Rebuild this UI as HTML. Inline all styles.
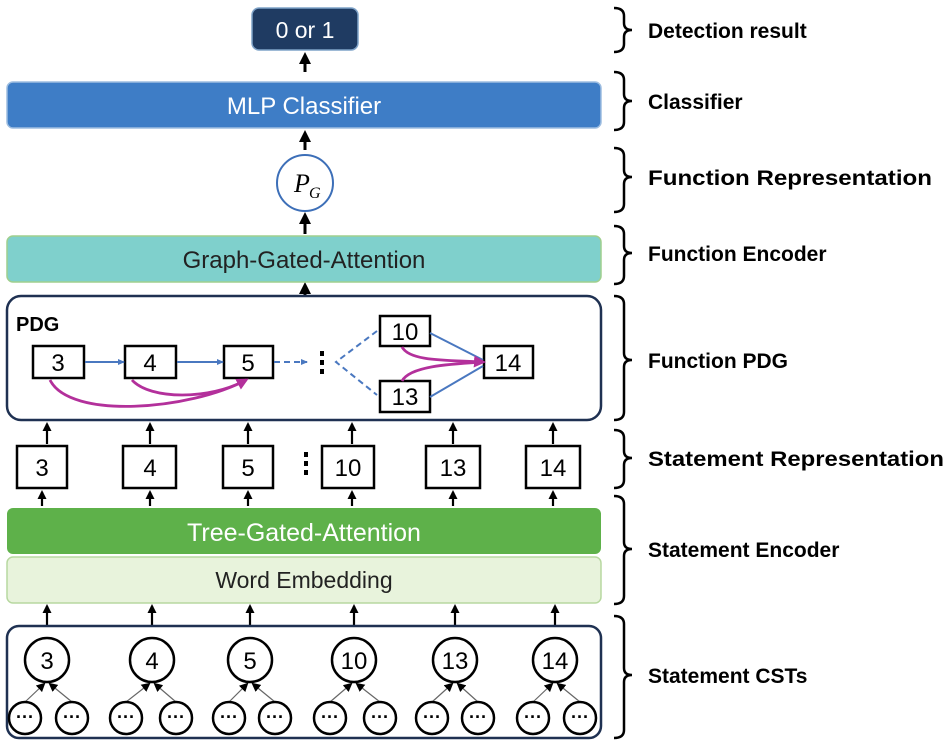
<!DOCTYPE html>
<html><head><style>body{margin:0;background:#fff}svg{display:block}</style></head><body>
<svg width="950" height="744" viewBox="0 0 950 744" xmlns="http://www.w3.org/2000/svg" font-family="Liberation Sans, sans-serif">
<defs>
<marker id="a" markerWidth="12" markerHeight="12" refX="6" refY="6" orient="auto" markerUnits="userSpaceOnUse"><path d="M0,0 L12,6 L0,12 z" fill="#000"/></marker>
<marker id="b" markerWidth="8" markerHeight="8" refX="6" refY="4" orient="auto" markerUnits="userSpaceOnUse"><path d="M0,1 L7,4 L0,7 z" fill="#4a78c0"/></marker>
<marker id="m" markerWidth="14" markerHeight="14" refX="9" refY="7" orient="auto" markerUnits="userSpaceOnUse"><path d="M0,1 L12,7 L0,13 z" fill="#b3309b"/></marker>
<marker id="s" markerWidth="9" markerHeight="9" refX="7" refY="4.5" orient="auto" markerUnits="userSpaceOnUse"><path d="M0,0 L9,4.5 L0,9 z" fill="#000"/></marker>
</defs>
<g stroke="#000" stroke-width="3" marker-end="url(#a)">
<line x1="305" y1="72" x2="305" y2="58"/>
<line x1="305" y1="150" x2="305" y2="136"/>
<line x1="305" y1="234" x2="305" y2="218"/>
<line x1="305" y1="296" x2="305" y2="288"/>
</g>
<rect x="252" y="8" width="106" height="42" rx="7" fill="#1f3b62" stroke="#7fa3c8" stroke-width="1.5"/>
<text x="305" y="38" font-size="23" fill="#fff" text-anchor="middle">0 or 1</text>
<rect x="7" y="82" width="594" height="46" rx="6" fill="#3e7dc6" stroke="#9dbde0" stroke-width="1.5"/>
<text x="304" y="114" font-size="24" fill="#fff" text-anchor="middle">MLP Classifier</text>
<circle cx="305" cy="183" r="28" fill="#fff" stroke="#3d6fb8" stroke-width="2"/>
<text x="294" y="192" font-size="26" font-style="italic" font-family="Liberation Serif, serif">P</text><text x="309" y="198" font-size="16" font-style="italic" font-family="Liberation Serif, serif">G</text>
<rect x="7" y="236" width="594" height="46" rx="6" fill="#7fd0cc" stroke="#9fcf8e" stroke-width="1.5"/>
<text x="304" y="268" font-size="24" fill="#222" text-anchor="middle">Graph-Gated-Attention</text>
<rect x="7" y="296" width="594" height="124" rx="14" fill="#fff" stroke="#1f3152" stroke-width="2.5"/>
<text x="16" y="331" font-size="20" font-weight="bold">PDG</text>
<g fill="#fff" stroke="#000" stroke-width="2.5">
<rect x="33" y="346" width="51" height="32"/><rect x="125" y="346" width="51" height="32"/><rect x="224" y="346" width="49" height="32"/>
<rect x="380" y="316" width="50" height="30"/><rect x="380" y="381" width="50" height="31"/><rect x="484" y="346" width="49" height="32"/>
</g>
<g font-size="24" text-anchor="middle">
<text x="58" y="371">3</text><text x="150" y="371">4</text><text x="248" y="371">5</text><text x="405" y="340">10</text><text x="405" y="405">13</text><text x="508" y="371">14</text>
</g>
<g stroke="#4a78c0" stroke-width="2" fill="none">
<line x1="85" y1="362" x2="124" y2="362" marker-end="url(#b)"/>
<line x1="177" y1="362" x2="223" y2="362" marker-end="url(#b)"/>
<line x1="274" y1="362" x2="307" y2="362" stroke-dasharray="6,4" marker-end="url(#b)"/>
<path d="M377,331 L336,362 L377,395" stroke-dasharray="6,4"/>
<line x1="430" y1="333" x2="483" y2="360"/><line x1="430" y1="397" x2="483" y2="366"/>
</g>
<g stroke="#b3309b" stroke-width="2.8" fill="none">
<path d="M50,380 C70,420 190,410 246,380" marker-end="url(#m)"/>
<path d="M132,380 C150,400 210,400 246,380"/>
<path d="M402,347 C410,362 450,360 483,362" marker-end="url(#m)"/>
<path d="M402,381 C410,366 450,364 483,362"/>
</g>
<g fill="#000"><rect x="320" y="351" width="4" height="5"/><rect x="320" y="360" width="4" height="5"/><rect x="320" y="369" width="4" height="5"/>
<rect x="304" y="452" width="4" height="5"/><rect x="304" y="461" width="4" height="5"/><rect x="304" y="470" width="4" height="5"/>
<rect x="257" y="683" width="4" height="5"/><rect x="257" y="692" width="4" height="5"/><rect x="257" y="701" width="4" height="5"/></g>
<g stroke="#000" stroke-width="2.2" marker-end="url(#s)">
<line x1="47" y1="444" x2="47" y2="424"/><line x1="150" y1="444" x2="150" y2="424"/><line x1="248" y1="444" x2="248" y2="424"/><line x1="352" y1="444" x2="352" y2="424"/><line x1="453" y1="444" x2="453" y2="424"/><line x1="553" y1="444" x2="553" y2="424"/>
<line x1="42" y1="506" x2="42" y2="492"/><line x1="150" y1="506" x2="150" y2="492"/><line x1="248" y1="506" x2="248" y2="492"/><line x1="352" y1="506" x2="352" y2="492"/><line x1="453" y1="506" x2="453" y2="492"/><line x1="553" y1="506" x2="553" y2="492"/>
<line x1="47" y1="638" x2="47" y2="606"/><line x1="152" y1="638" x2="152" y2="606"/><line x1="250" y1="638" x2="250" y2="606"/><line x1="354" y1="638" x2="354" y2="606"/><line x1="455" y1="638" x2="455" y2="606"/><line x1="555" y1="638" x2="555" y2="606"/>
</g>
<g fill="#fff" stroke="#000" stroke-width="2.5">
<rect x="17" y="446" width="50" height="42"/><rect x="123" y="446" width="53" height="42"/><rect x="223" y="446" width="50" height="42"/><rect x="322" y="446" width="52" height="42"/><rect x="426" y="446" width="54" height="42"/><rect x="526" y="446" width="54" height="42"/>
</g>
<g font-size="24" text-anchor="middle">
<text x="42" y="476">3</text><text x="150" y="476">4</text><text x="248" y="476">5</text><text x="348" y="476">10</text><text x="453" y="476">13</text><text x="553" y="476">14</text>
</g>
<rect x="7" y="508" width="594" height="46" rx="6" fill="#5eb14a"/>
<text x="304" y="541" font-size="25" fill="#fff" text-anchor="middle">Tree-Gated-Attention</text>
<rect x="7" y="557" width="594" height="46" rx="6" fill="#e8f3dc" stroke="#b7d8a0" stroke-width="1.5"/>
<text x="304" y="588" font-size="23" fill="#222" text-anchor="middle">Word Embedding</text>
<rect x="7" y="626" width="594" height="112" rx="12" fill="#fff" stroke="#1f3152" stroke-width="2.5"/>
<g stroke="#666" stroke-width="1.2" marker-end="url(#s)">
<line x1="25" y1="702" x2="44" y2="684"/><line x1="72" y1="702" x2="50" y2="684"/>
<line x1="126" y1="702" x2="149" y2="684"/><line x1="176" y1="702" x2="155" y2="684"/>
<line x1="229" y1="702" x2="247" y2="684"/><line x1="275" y1="702" x2="253" y2="684"/>
<line x1="330" y1="702" x2="351" y2="684"/><line x1="380" y1="702" x2="357" y2="684"/>
<line x1="432" y1="702" x2="452" y2="684"/><line x1="478" y1="702" x2="458" y2="684"/>
<line x1="533" y1="702" x2="552" y2="684"/><line x1="580" y1="702" x2="558" y2="684"/>
</g>
<g fill="#fff" stroke="#000" stroke-width="2.5">
<circle cx="47" cy="660" r="22"/><circle cx="152" cy="660" r="22"/><circle cx="250" cy="660" r="22"/><circle cx="354" cy="660" r="22"/><circle cx="455" cy="660" r="22"/><circle cx="555" cy="660" r="22"/>
<circle cx="25" cy="718" r="16"/><circle cx="72" cy="718" r="16"/><circle cx="126" cy="718" r="16"/><circle cx="176" cy="718" r="16"/><circle cx="229" cy="718" r="16"/><circle cx="275" cy="718" r="16"/><circle cx="330" cy="718" r="16"/><circle cx="380" cy="718" r="16"/><circle cx="432" cy="718" r="16"/><circle cx="478" cy="718" r="16"/><circle cx="533" cy="718" r="16"/><circle cx="580" cy="718" r="16"/>
</g>
<g font-size="24" text-anchor="middle">
<text x="47" y="669">3</text><text x="152" y="669">4</text><text x="250" y="669">5</text><text x="354" y="669">10</text><text x="455" y="669">13</text><text x="555" y="669">14</text>
</g>
<g font-size="18" font-weight="bold" text-anchor="middle">
<text x="25" y="723">···</text><text x="72" y="723">···</text><text x="126" y="723">···</text><text x="176" y="723">···</text><text x="229" y="723">···</text><text x="275" y="723">···</text><text x="330" y="723">···</text><text x="380" y="723">···</text><text x="432" y="723">···</text><text x="478" y="723">···</text><text x="533" y="723">···</text><text x="580" y="723">···</text>
</g>
<g stroke="#000" stroke-width="2.5" fill="none">
<path d="M614,8 Q624,8 624,16 L624,23 Q624,30 632,30 Q624,30 624,37 L624,44 Q624,52 614,52"/>
<path d="M614,72 Q624,72 624,80 L624,94 Q624,101 632,101 Q624,101 624,108 L624,122 Q624,130 614,130"/>
<path d="M614,148 Q624,148 624,156 L624,170 Q624,177 632,177 Q624,177 624,184 L624,204 Q624,212 614,212"/>
<path d="M614,226 Q624,226 624,234 L624,246 Q624,253 632,253 Q624,253 624,260 L624,276 Q624,284 614,284"/>
<path d="M614,296 Q624,296 624,304 L624,353 Q624,360 632,360 Q624,360 624,367 L624,412 Q624,420 614,420"/>
<path d="M614,430 Q624,430 624,438 L624,451 Q624,458 632,458 Q624,458 624,465 L624,480 Q624,488 614,488"/>
<path d="M614,496 Q624,496 624,504 L624,542 Q624,549 632,549 Q624,549 624,556 L624,596 Q624,604 614,604"/>
<path d="M614,616 Q624,616 624,624 L624,668 Q624,675 632,675 Q624,675 624,682 L624,730 Q624,738 614,738"/>
</g>
<g font-size="21" font-weight="bold">
<text x="648" y="38">Detection result</text>
<text x="648" y="109">Classifier</text>
<text x="648" y="185" textLength="284" lengthAdjust="spacingAndGlyphs">Function Representation</text>
<text x="648" y="261">Function Encoder</text>
<text x="648" y="368">Function PDG</text>
<text x="648" y="466" textLength="296" lengthAdjust="spacingAndGlyphs">Statement Representation</text>
<text x="648" y="557">Statement Encoder</text>
<text x="648" y="683">Statement CSTs</text>
</g>
</svg>
</body></html>
